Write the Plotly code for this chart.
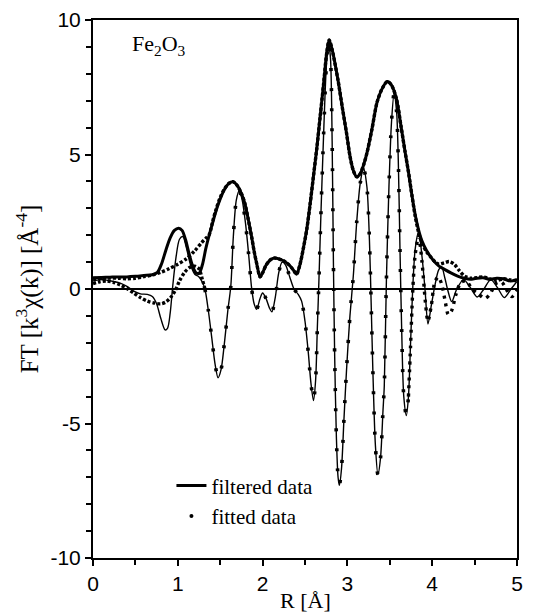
import plotly.graph_objects as go

# ---------------- data ----------------
# filtered data, magnitude |FT|
filt_mag_R = [0.00, 0.10, 0.20, 0.30, 0.40, 0.50, 0.60, 0.70, 0.76, 0.81, 0.86, 0.91, 0.96, 1.01, 1.05,
              1.09, 1.13, 1.17, 1.21, 1.25, 1.29, 1.33, 1.37, 1.41, 1.45, 1.50, 1.55, 1.60, 1.65, 1.70,
              1.75, 1.79, 1.83, 1.87, 1.90, 1.93, 1.97, 2.00, 2.04, 2.09, 2.14, 2.19, 2.24, 2.30, 2.36,
              2.40, 2.44, 2.48, 2.52, 2.56, 2.60, 2.64, 2.68, 2.72, 2.755, 2.785, 2.82, 2.89, 2.94, 2.99,
              3.03, 3.07, 3.11, 3.15, 3.19, 3.23, 3.29, 3.35, 3.41, 3.47, 3.52, 3.58, 3.63, 3.68, 3.72,
              3.76, 3.80, 3.84, 3.88, 3.93, 3.98, 4.03, 4.08, 4.15, 4.22, 4.30, 4.38, 4.45, 4.52, 4.60,
              4.68, 4.76, 4.84, 4.92, 5.00]
filt_mag = [0.42, 0.43, 0.44, 0.45, 0.45, 0.47, 0.50, 0.53, 0.62, 0.95, 1.45, 1.90, 2.18, 2.26, 2.18,
            1.85, 1.35, 0.90, 0.62, 0.58, 0.90, 1.50, 2.00, 2.45, 2.90, 3.35, 3.70, 3.92, 3.99, 3.85,
            3.55, 3.19, 2.60, 1.95, 1.40, 0.95, 0.45, 0.60, 0.88, 1.08, 1.15, 1.12, 1.06, 0.93, 0.72,
            0.55, 0.90, 1.50, 2.20, 3.15, 4.20, 5.25, 6.45, 7.65, 8.75, 9.26, 8.90, 7.75, 6.75, 5.79,
            4.95, 4.40, 4.17, 4.28, 4.60, 5.05, 5.95, 6.95, 7.45, 7.71, 7.58, 7.05, 6.10, 5.10, 4.35,
            3.50, 2.75, 2.19, 1.78, 1.45, 1.20, 1.00, 0.85, 0.72, 0.60, 0.48, 0.40, 0.36, 0.40, 0.42,
            0.36, 0.40, 0.38, 0.30, 0.36]

# filtered data, imaginary part
filt_im_R = [0.00, 0.08, 0.16, 0.24, 0.32, 0.40, 0.48, 0.56, 0.64, 0.70, 0.75, 0.80, 0.85, 0.88, 0.91,
             0.94, 0.98, 1.02, 1.06, 1.10, 1.15, 1.20, 1.25, 1.29,
             1.32, 1.36, 1.40, 1.44, 1.475, 1.51, 1.55, 1.59, 1.625, 1.655, 1.69, 1.725, 1.76, 1.80,
             1.835, 1.87, 1.90, 1.93, 1.97, 2.00, 2.04, 2.08, 2.11, 2.15, 2.19, 2.23, 2.27, 2.32, 2.37,
             2.42, 2.46, 2.50, 2.54, 2.57, 2.60, 2.625, 2.645, 2.665, 2.69, 2.72, 2.75, 2.775, 2.80,
             2.82, 2.835, 2.85, 2.87, 2.89, 2.905, 2.93, 2.96, 2.99, 3.03, 3.07, 3.11, 3.15, 3.19,
             3.23, 3.26, 3.28, 3.30, 3.33, 3.36, 3.39, 3.42, 3.435, 3.46, 3.49, 3.52, 3.55, 3.58, 3.60,
             3.62, 3.64, 3.665, 3.695, 3.72,
             3.745, 3.77, 3.80, 3.84, 3.88, 3.915, 3.95, 3.99, 4.03, 4.075, 4.11, 4.15, 4.18, 4.23,
             4.29, 4.37, 4.45, 4.53, 4.61, 4.69, 4.77, 4.85, 4.93, 5.00]
filt_im = [0.30, 0.35, 0.33, 0.28, 0.22, 0.10, -0.08, -0.18, -0.20, -0.28, -0.55, -1.10, -1.52, -1.45, -0.90,
           0.10, 1.20, 1.85, 1.95, 1.55, 0.90, 0.55, 0.45, 0.25,
           0.00, -0.80, -1.80, -2.80, -3.30, -3.00, -2.00, -0.80, 0.10, 1.95, 3.30, 3.65, 3.30, 2.40,
           1.30, 0.05, -0.55, -0.75, -0.35, -0.15, -0.35, -0.70, -0.85, -0.30, 0.60, 1.00, 0.90, 0.45, 0.00,
           -0.20, -0.45, -1.20, -2.40, -3.50, -4.15, -3.40, -1.50, 0.40, 3.00, 5.80, 8.20, 9.20, 8.60,
           5.50, 1.00, -2.50, -5.50, -7.00, -7.30, -6.70, -4.80, -3.00, -1.00, 0.50, 2.50, 3.90, 4.50,
           3.80, 1.80, -0.50, -3.00, -5.80, -6.90, -6.30, -4.50, -3.60, 0.33, 3.80, 6.20, 7.25, 6.60, 4.80,
           1.50, -1.50, -4.00, -4.70, -4.00,
           -2.00, 0.00, 1.50, 2.13, 1.20, 0.00, -1.30, -0.60, 0.10, 0.70, 0.83, 0.40, 0.00, -0.47,
           0.00, 0.35, 0.05, -0.30, 0.00, 0.35, 0.05, -0.32, 0.00, 0.28]

# fitted data, magnitude (low-R part and high-R part; middle follows the filtered curve)
fit_mag_low_R = [0.00, 0.10, 0.20, 0.30, 0.40, 0.50, 0.60, 0.70, 0.80, 0.90, 1.00, 1.10, 1.20, 1.28, 1.33]
fit_mag_low = [0.38, 0.40, 0.41, 0.40, 0.38, 0.40, 0.46, 0.52, 0.62, 0.76, 0.92, 1.12, 1.42, 1.72, 1.88]
fit_mag_mid_R = [1.37, 1.41, 1.45, 1.50, 1.55, 1.60, 1.65, 1.70, 1.75, 1.79, 1.83, 1.87, 1.90, 1.93, 1.97,
                 2.00, 2.04, 2.09, 2.14, 2.19, 2.24, 2.30, 2.36, 2.40, 2.44, 2.48, 2.52, 2.56, 2.60, 2.64,
                 2.68, 2.72, 2.755, 2.785, 2.82, 2.89, 2.94, 2.99, 3.03, 3.07, 3.11, 3.15, 3.19, 3.23, 3.29,
                 3.35, 3.41, 3.47, 3.52, 3.58, 3.63, 3.68, 3.72, 3.76]
fit_mag_mid = [2.02, 2.50, 2.95, 3.40, 3.72, 3.92, 3.99, 3.85, 3.55, 3.19, 2.60, 1.95, 1.40, 0.95, 0.45,
               0.60, 0.88, 1.08, 1.15, 1.12, 1.06, 0.93, 0.72, 0.55, 0.90, 1.50, 2.20, 3.15, 4.20, 5.25,
               6.45, 7.65, 8.75, 9.26, 8.90, 7.75, 6.75, 5.79, 4.95, 4.40, 4.17, 4.28, 4.60, 5.05, 5.95,
               6.95, 7.45, 7.71, 7.58, 7.05, 6.10, 5.10, 4.35, 3.50]
fit_mag_high_R = [3.80, 3.84, 3.88, 3.93, 3.98, 4.03, 4.08, 4.14, 4.20, 4.26, 4.32, 4.38, 4.45, 4.52, 4.60,
                  4.68, 4.76, 4.84, 4.92, 5.00]
fit_mag_high = [2.70, 2.10, 1.70, 1.40, 1.20, 1.02, 0.92, 0.97, 1.02, 0.92, 0.68, 0.48, 0.40, 0.42, 0.45,
                0.38, 0.32, 0.38, 0.34, 0.30]

# fitted data, imaginary part
fit_im_low_R = [0.00, 0.08, 0.16, 0.24, 0.32, 0.40, 0.48, 0.56, 0.64, 0.72, 0.80, 0.86, 0.92, 0.97, 1.02,
                1.08, 1.14, 1.20, 1.25, 1.29]
fit_im_low = [0.20, 0.27, 0.30, 0.25, 0.15, 0.02, -0.15, -0.32, -0.45, -0.52, -0.55, -0.48, -0.30, -0.05, 0.30,
              0.62, 0.80, 0.85, 0.75, 0.35]
fit_im_mid_R = filt_im_R[24:101]
fit_im_mid = filt_im[24:101]
fit_im_high_R = [3.745, 3.77, 3.80, 3.84, 3.88, 3.92, 3.95, 3.99, 4.03, 4.07, 4.11, 4.15, 4.19, 4.23, 4.28,
                 4.34, 4.40, 4.47, 4.55, 4.62, 4.68, 4.75, 4.82, 4.88, 4.94, 5.00]
fit_im_high = [-2.10, -0.10, 1.30, 1.95, 1.00, -0.50, -1.20, -0.60, 0.25, 0.45, 0.20, -0.40, -0.95, -0.80, -0.20,
               0.25, 0.30, 0.00, -0.20, -0.35, -0.20, 0.20, 0.25, -0.05, -0.28, -0.05]

fit_mag_R = fit_mag_low_R + fit_mag_mid_R + fit_mag_high_R
fit_mag = fit_mag_low + fit_mag_mid + fit_mag_high

x_ticks = [0, 1, 2, 3, 4, 5]
y_ticks = [-10, -5, 0, 5, 10]

# ---------------- figure ----------------
SERIF = "Liberation Serif, Times New Roman, serif"
SANS = "Liberation Sans, Arial, sans-serif"

fig = go.Figure()
fig.add_trace(go.Scatter(x=filt_im_R, y=filt_im, mode="lines", name="filtered imag",
                         line=dict(color="black", width=1.4, shape="spline", smoothing=0.8),
                         showlegend=False))
fig.add_trace(go.Scatter(x=filt_mag_R, y=filt_mag, mode="lines", name="filtered data",
                         line=dict(color="black", width=3, shape="spline", smoothing=0.8),
                         showlegend=True))
fig.add_trace(go.Scatter(x=fit_mag_R, y=fit_mag, mode="lines", name="fitted mag",
                         line=dict(color="black", width=3.4, shape="spline", smoothing=0.8, dash="3px,2px"),
                         showlegend=False))
# fitted imaginary part: dense dots where the curve is flat, sparse where it is steep
fig.add_trace(go.Scatter(x=fit_im_low_R + fit_im_mid_R[:1], y=fit_im_low + fit_im_mid[:1], mode="lines",
                         name="fitted imag low",
                         line=dict(color="black", width=3.4, shape="spline", smoothing=0.8, dash="3px,2px"),
                         showlegend=False))
fig.add_trace(go.Scatter(x=fit_im_mid_R, y=fit_im_mid, mode="lines", name="fitted imag",
                         line=dict(color="black", width=3.6, shape="spline", smoothing=0.8, dash="3px,17px"),
                         showlegend=False))
fig.add_trace(go.Scatter(x=fit_im_mid_R[-1:] + fit_im_high_R, y=fit_im_mid[-1:] + fit_im_high, mode="lines",
                         name="fitted imag high",
                         line=dict(color="black", width=3.4, shape="spline", smoothing=0.8, dash="3px,5px"),
                         showlegend=False))
fig.add_trace(go.Scatter(x=[None], y=[None], mode="markers", name="fitted data",
                         marker=dict(color="black", size=4), showlegend=True))

fig.add_annotation(x=0.44, y=9.07, xref="x", yref="y", text="Fe<sub>2</sub>O<sub>3</sub>",
                   showarrow=False, xanchor="left", yanchor="middle",
                   font=dict(family=SERIF, size=22, color="black"))
# x axis title
fig.add_annotation(x=0.5, y=0, xref="paper", yref="paper", text="R [Å]",
                   showarrow=False, xanchor="center", yanchor="middle", yshift=-42,
                   font=dict(family=SERIF, size=22, color="black"))

fig.update_layout(
    width=539, height=605,
    margin=dict(l=85, r=30, t=12, b=55, autoexpand=False),
    paper_bgcolor="white", plot_bgcolor="white",
    showlegend=True,
    legend=dict(x=0.185, y=0.172, xanchor="left", yanchor="top",
                bgcolor="rgba(0,0,0,0)", font=dict(family=SERIF, size=21, color="black"),
                tracegroupgap=0),
)
fig.update_xaxes(range=[0, 5], tickvals=x_ticks, ticktext=[str(v) for v in x_ticks],
                 automargin=False,
                 showgrid=False, zeroline=False,
                 showline=True, linecolor="black", linewidth=2, mirror=True,
                 ticks="outside", ticklen=6, tickwidth=1.5, tickcolor="black",
                 minor=dict(dtick=0.5, tick0=0, ticks="outside", ticklen=5, tickwidth=1.5, tickcolor="black"),
                 tickfont=dict(family=SANS, size=21, color="black"))
fig.update_yaxes(range=[-10, 10], tickvals=y_ticks, ticktext=[str(v) for v in y_ticks],
                 automargin=False,
                 showgrid=False, zeroline=True, zerolinecolor="black", zerolinewidth=1.5,
                 showline=True, linecolor="black", linewidth=2, mirror=True,
                 ticks="outside", ticklen=6, tickwidth=1.5, tickcolor="black",
                 minor=dict(dtick=1, tick0=0, ticks="outside", ticklen=5, tickwidth=1.5, tickcolor="black"),
                 tickfont=dict(family=SANS, size=21, color="black"),
                 title=dict(text="FT [k<sup>3</sup>χ(k)] [Å<sup>-4</sup>]",
                            font=dict(family=SERIF, size=25, color="black"), standoff=5))

fig.write_html("out.html")
